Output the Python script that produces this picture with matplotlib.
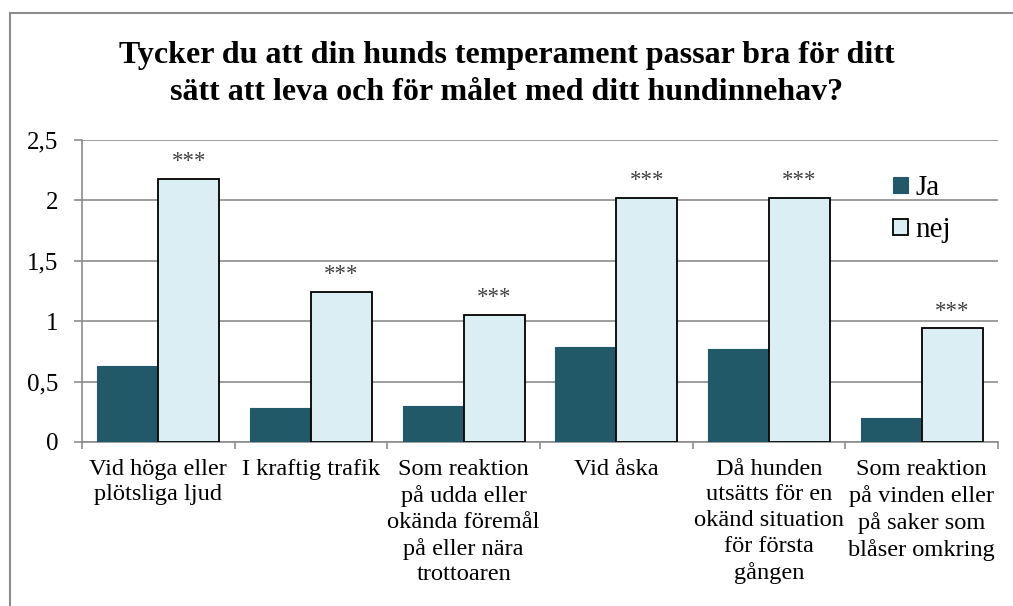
import matplotlib
matplotlib.use("Agg")
import matplotlib.pyplot as plt
from matplotlib.patches import Rectangle
import numpy as np

categories = [
    "Vid höga eller\nplötsliga ljud",
    "I kraftig trafik",
    "Som reaktion\npå udda eller\nokända föremål\npå eller nära\ntrottoaren",
    "Vid åska",
    "Då hunden\nutsätts för en\nokänd situation\nför första\ngången",
    "Som reaktion\npå vinden eller\npå saker som\nblåser omkring",
]
ja = [0.63, 0.28, 0.30, 0.79, 0.77, 0.20]
nej = [2.18, 1.24, 1.05, 2.02, 2.02, 0.94]
marks = ["***"] * 6
yticks = [0, 0.5, 1, 1.5, 2, 2.5]
yticklabels = ["0", "0,5", "1", "1,5", "2", "2,5"]
title = "Tycker du att din hunds temperament passar bra för ditt\nsätt att leva och för målet med ditt hundinnehav?"

plt.rcParams['font.family'] = ['Liberation Serif', 'DejaVu Serif']

W, H = 1013, 606
fig = plt.figure(figsize=(W / 100, H / 100), dpi=100)
ax = fig.add_axes([82 / W, 1 - 442 / H, (998 - 82) / W, (442 - 140) / H])

# chart border
fig.patches.append(Rectangle((10 / W, -0.05), 1.1, 1 - 13 / H + 0.05,
                             transform=fig.transFigure, fill=False,
                             edgecolor='#8c8c8c', lw=1.5, zorder=0))

x = np.arange(len(categories))
w = 0.4
ax.bar(x - w / 2, ja, w, color='#215968', edgecolor='#215968', lw=0.8, label='Ja', zorder=3)
ax.bar(x + w / 2, nej, w, color='#DAEEF3', edgecolor='black', lw=1.3, label='nej', zorder=3)

for xi, v, m in zip(x, nej, marks):
    ax.annotate(m, (xi + w / 2, v), xytext=(0, 5), textcoords='offset points',
                ha='center', va='bottom', fontsize=16.5, color='#404040')

ax.set_xlim(-0.5, len(categories) - 0.5)
ax.set_ylim(0, 2.5)
ax.set_yticks(yticks)
ax.set_yticklabels(yticklabels, fontsize=18)
ax.yaxis.grid(True, color='#8c8c8c', lw=1.2, zorder=0)
ax.set_axisbelow(True)

ax.set_xticks(x)
ax.set_xticklabels(categories, fontsize=17.6, linespacing=1.3)
ax.tick_params(axis='x', which='major', length=0, pad=12)
ax.set_xticks(np.arange(-0.5, len(categories)), minor=True)
ax.tick_params(axis='x', which='minor', length=5, color='#8c8c8c', width=1.2)
ax.tick_params(axis='y', length=5.8, color='#8c8c8c', width=1.2, pad=11)

for s in ['top', 'right']:
    ax.spines[s].set_visible(False)
for s in ['left', 'bottom']:
    ax.spines[s].set_color('#8c8c8c')
    ax.spines[s].set_linewidth(1.2)

fig.text(0.5, 1 - 74 / H, title, ha='center', va='center', fontsize=23,
         fontweight='bold', linespacing=1.36)

ax.legend(loc='upper left', bbox_to_anchor=(867 / W, 1 - 149 / H),
          bbox_transform=fig.transFigure, frameon=False, fontsize=21,
          handlelength=0.5, handleheight=0.5, handletextpad=0.25,
          labelspacing=0.55)

fig.savefig('out.png', dpi=100)
